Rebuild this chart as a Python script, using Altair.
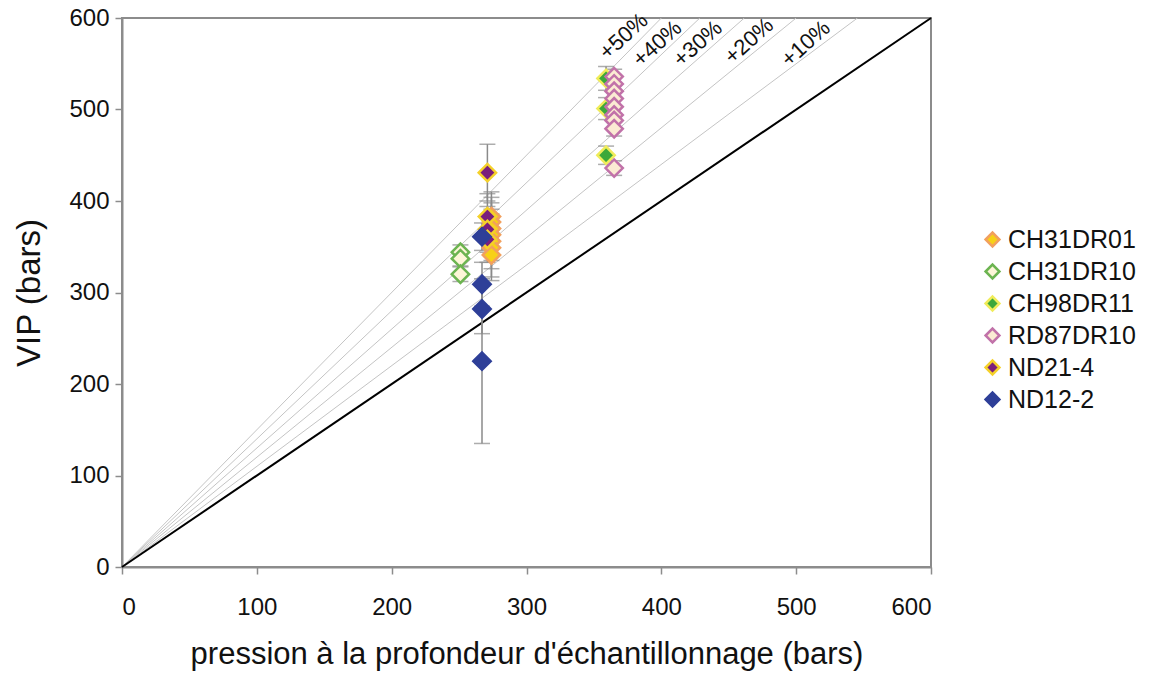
import altair as alt
import pandas as pd

# ---------------- data ----------------
series_names = ["CH31DR01", "CH31DR10", "CH98DR11", "RD87DR10", "ND21-4", "ND12-2"]
fill_colors = ["#F7D117", "#FDF6D8", "#3DA83A", "#FBEBD3", "#7A1F7C", "#2E3F98"]
stroke_colors = ["#F2A05E", "#6CB451", "#F0EC5A", "#C172A9", "#F5D12A", "#2E3F98"]

ch31dr01_x = [274, 274, 274, 274, 274, 274, 274]
ch31dr01_y = [383, 377, 370, 363, 356, 349, 341]
ch31dr01_e = [27, 27, 28, 28, 30, 32, 28]

ch31dr10_x = [251, 251, 251]
ch31dr10_y = [344, 337, 320]
ch31dr10_e = [8, 8, 8]

ch98dr11_x = [359, 359, 359]
ch98dr11_y = [534, 501, 450]
ch98dr11_e = [13, 12, 10]

rd87dr10_x = [365, 365, 365, 365, 365, 365, 365, 365, 365]
rd87dr10_y = [536, 528, 520, 512, 503, 494, 488, 479, 436]
rd87dr10_e = [8, 8, 8, 8, 8, 8, 8, 8, 8]

nd21_4_x = [271, 271, 271, 271]
nd21_4_y = [431, 383, 369, 358]
nd21_4_e = [31, 25, 25, 25]

nd12_2_x = [267, 267, 267, 267]
nd12_2_y = [361, 309, 282, 225]
nd12_2_e = [15, 24, 27, 90]

pct_ratios = [0.1, 0.2, 0.3, 0.4, 0.5]
pct_labels = ["+10%", "+20%", "+30%", "+40%", "+50%"]
label_x = [507, 465, 427, 397, 372]
label_y = [572, 575, 572, 572, 580]

axis_max = 600

# ---------------- tables ----------------
rows = []
for name, xs, ys, es in [
    ("CH31DR01", ch31dr01_x, ch31dr01_y, ch31dr01_e),
    ("CH31DR10", ch31dr10_x, ch31dr10_y, ch31dr10_e),
    ("CH98DR11", ch98dr11_x, ch98dr11_y, ch98dr11_e),
    ("RD87DR10", rd87dr10_x, rd87dr10_y, rd87dr10_e),
    ("ND21-4", nd21_4_x, nd21_4_y, nd21_4_e),
    ("ND12-2", nd12_2_x, nd12_2_y, nd12_2_e),
]:
    for x, y, e in zip(xs, ys, es):
        rows.append({"series": name, "x": x, "y": y, "lo": y - e, "hi": y + e})
pts = pd.DataFrame(rows)

line_rows = []
for r, lab in zip(pct_ratios, pct_labels):
    line_rows.append({"line": lab, "x": 0, "y": 0})
    line_rows.append({"line": lab, "x": axis_max / (1 + r), "y": axis_max})
lines_df = pd.DataFrame(line_rows)
diag_df = pd.DataFrame({"x": [0, axis_max], "y": [0, axis_max]})
labels_df = pd.DataFrame({"label": pct_labels, "x": label_x, "y": label_y})

xs = alt.Scale(domain=[0, 600], nice=False)
ys = alt.Scale(domain=[0, 600], nice=False)
ticks = list(range(0, 601, 100))

X = alt.X("x:Q", scale=xs, title="pression à la profondeur d'échantillonnage (bars)",
          axis=alt.Axis(values=ticks, titleFontSize=31))
Y = alt.Y("y:Q", scale=ys, title="VIP (bars)", axis=alt.Axis(values=ticks, titleFontSize=33))

grey_lines = alt.Chart(lines_df).mark_line(color="#c4c4c4", strokeWidth=1, clip=True).encode(
    x=X, y=Y, detail="line:N"
)
diag = alt.Chart(diag_df).mark_line(color="#000000", strokeWidth=2).encode(x=X, y=Y)

pct_text = alt.Chart(labels_df).mark_text(
    angle=318, fontSize=22, font="Liberation Sans", color="#111111"
).encode(x="x:Q", y="y:Q", text="label:N")

err_rule = alt.Chart(pts).mark_rule(color="#8a8a8a", strokeWidth=1.5).encode(
    x="x:Q", y="lo:Q", y2="hi:Q"
)
cap_lo = alt.Chart(pts).mark_tick(color="#8a8a8a", orient="horizontal", size=16, thickness=1.5).encode(
    x="x:Q", y="lo:Q"
)
cap_hi = alt.Chart(pts).mark_tick(color="#8a8a8a", orient="horizontal", size=16, thickness=1.5).encode(
    x="x:Q", y="hi:Q"
)

legend = alt.Legend(
    title=None, orient="none", legendX=858, legendY=209,
    labelFontSize=25, labelFont="Liberation Sans", labelColor="#111111",
    symbolSize=190, symbolStrokeWidth=2.5, rowPadding=6, labelOffset=3,
)
points = alt.Chart(pts).mark_point(shape="diamond", filled=True, size=300, strokeWidth=2.5, opacity=1).encode(
    x="x:Q", y="y:Q",
    fill=alt.Fill("series:N", scale=alt.Scale(domain=series_names, range=fill_colors), legend=legend,
                  sort=series_names),
    stroke=alt.Stroke("series:N", scale=alt.Scale(domain=series_names, range=stroke_colors), legend=legend,
                      sort=series_names),
)

chart = alt.layer(grey_lines, diag, pct_text, err_rule, cap_lo, cap_hi, points).properties(
    width=809, height=549,
    autosize=alt.AutoSizeParams(type="none"),
    padding={"left": 114, "top": 10, "right": 214, "bottom": 108},
).configure_view(
    stroke="#8c8c8c", strokeWidth=2
).configure_axis(
    grid=False, domainColor="#8c8c8c", domainWidth=2, tickColor="#8c8c8c", tickWidth=1.5,
    tickSize=7, labelFont="Liberation Sans", titleFont="Liberation Sans",
    labelFontSize=24, labelColor="#111111", titleColor="#111111",
    titleFontWeight="normal",
).configure_axisX(
    labelPadding=21, titlePadding=20
).configure_axisY(
    labelPadding=6, titlePadding=22
)

chart.save("out.html", embed_options={"renderer": "svg", "actions": False})
